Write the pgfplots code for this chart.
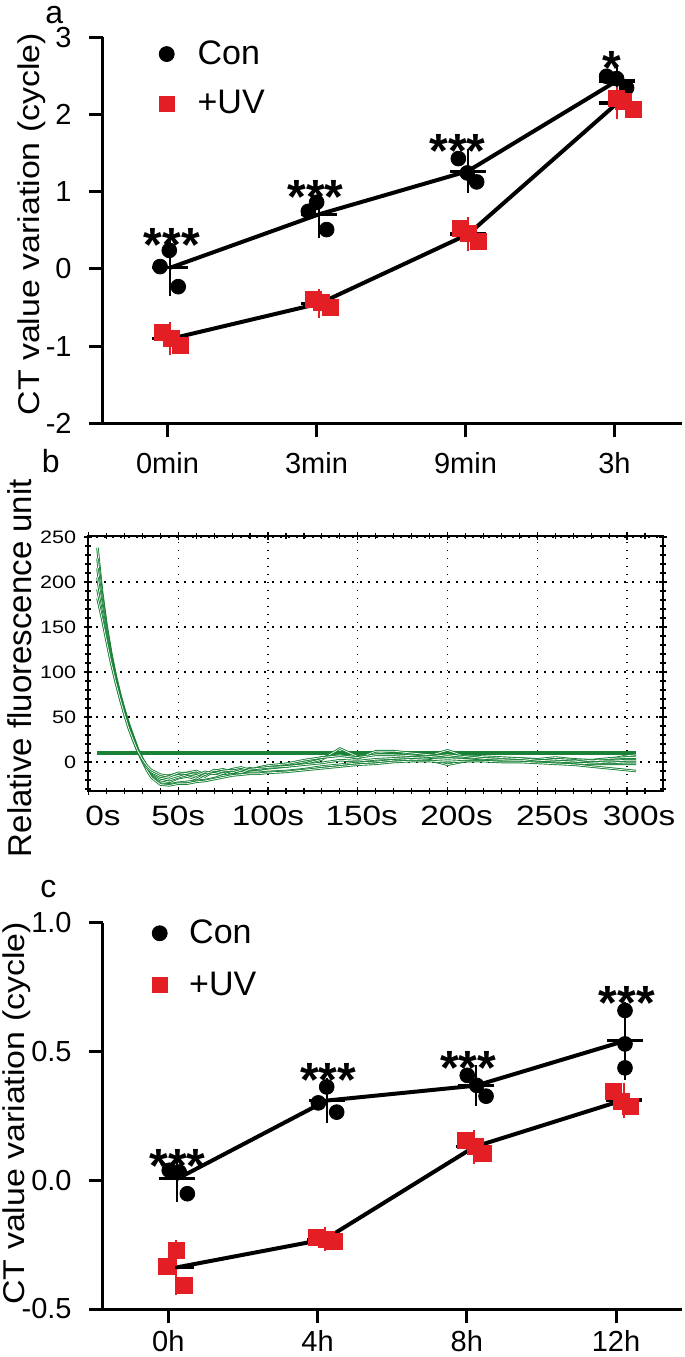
\documentclass[border=0pt]{standalone}
\usepackage{fontspec}
\setmainfont{Liberation Sans}
\usepackage{graphicx}
\usepackage{pgfplots}
\pgfplotsset{compat=1.18}
\usepackage{pgfplotstable}
\definecolor{uvred}{RGB}{228,30,37}
\definecolor{rfugreen}{RGB}{25,130,55}

\pgfplotstableread{
x c1 c2 c3 c4 c5 c6
5 238 226 215 205 192 182
7.5 190 185 178 172 165 160
10 152 150 146 142 138 135
12.5 122 121 118 116 113 111
15 97 96 94 93 91 90
17.5 76 75 74 73 72 71
20 58 57 56 55 54 53
22.5 42 41 40 39 38 37
25 28 27 26 25 24 24
27.5 14 14 13 12 12 12
30 3 4 2 1 2 3
32.5 -6 -5 -8 -9 -6 -4
35 -13 -12 -16 -17 -11 -9
40 -20 -18 -24 -25 -16 -14
45 -22 -20 -25 -26 -15 -16
50 -18 -17 -23 -24 -13 -12
55 -16 -14 -22 -24 -12 -13
60 -19 -12 -21 -22 -10 -15
65 -14 -16 -20 -21 -14 -11
70 -12 -10 -18 -19 -9 -13
75 -15 -8 -15 -17 -11 -10
80 -10 -12 -14 -15 -8 -9
85 -11 -9 -13 -14 -6 -12
90 -9 -7 -12 -13 -9 -8
95 -8 -9 -12 -13 -6 -7
100 -7 -5 -11 -12 -4 -6
110 -5 -3 -10 -11 -2 -5
120 -2 0 -8 -9 2 -3
130 3 5 -5 -7 5 -1
140 15 8 -3 -5 7 2
150 6 4 -1 -3 5 1
160 10 12 0 -2 8 3
170 12 12 2 0 8 4
180 8 10 3 1 7 5
190 7 8 2 1 5 6
200 13 6 -3 0 4 8
210 6 7 1 1 5 6
220 5 6 2 1 3 4
230 4 5 2 0 2 3
240 3 4 1 0 2 4
250 2 3 0 -1 1 2
260 4 5 0 -2 3 1
270 2 3 -1 -3 2 0
280 1 2 -2 -5 0 2
290 3 4 -2 -7 -1 1
300 7 5 -2 -9 0 2
305 8 5 -2 -10 0 2
}\rfu

\tikzset{stars/.style={anchor=base, inner sep=0pt, yshift=-13.8pt, font=\fontsize{24}{24}\selectfont\bfseries}}
\pgfplotsset{
  prism/.style={
    scale only axis, anchor=south west, clip=false,
    width=289.5pt, height=193pt,
    axis x line*=bottom, axis y line*=left,
    axis line style={-, line width=1.5pt, black},
    tick align=outside, major tick length=7pt,
    tick style={line width=1.5pt, black},
    ticklabel style={font=\fontsize{14.5}{14.5}\selectfont},
    xticklabel style={anchor=base, inner sep=0pt, yshift=-18pt},
    yticklabel style={anchor=east, inner sep=0pt, xshift=-8.5pt},
    xtick={0,1,2,3},
    legend cell align=left,
    legend image code/.code={\draw[##1, mark size=3.75pt] plot coordinates {(0pt,0pt)};},
    legend style={draw=none, fill=none, inner sep=0pt, outer sep=0pt, anchor=north west,
      font=\fontsize{17}{17}\selectfont, nodes={inner sep=0pt}},
  },
  meanbar/.style={forget plot, black, only marks, mark=-, mark size=9pt,
    mark options={line width=1.6pt}},
}

\begin{document}
\begin{tikzpicture}
% panel letters
\node[anchor=base west, inner sep=0pt, font=\fontsize{16}{16}\selectfont] at (22.5pt,666.5pt) {a};
\node[anchor=base west, inner sep=0pt, font=\fontsize{16}{16}\selectfont] at (20.75pt,442pt) {b};
\node[anchor=base west, inner sep=0pt, font=\fontsize{16}{16}\selectfont] at (20pt,229.5pt) {c};

% ---------------- panel a ----------------
\begin{axis}[prism, at={(51.5pt,466.85pt)},
  xmin=-0.433, xmax=3.453, ymin=-2, ymax=3,
  xticklabels={0min,3min,9min,3h},
  ytick={-2,-1,0,1,2,3}, yticklabels={-2,-1,0,1,2,3},
  ylabel={\scalebox{1.13}[1]{CT value variation (cycle)}},
  ylabel style={font=\fontsize{15}{15}\selectfont, at={(axis description cs:-0.1477,0.5158)}, anchor=north, inner sep=0pt},
  legend style={at={(axis description cs:0.0971,0.9912)}, row sep=11.5pt, column sep=11.7pt},
]
\addplot[forget plot, black, line width=2pt] coordinates {(0.015,0.013) (1.015,0.706) (2.015,1.266) (3.015,2.435)};
\addplot[forget plot, black, line width=2pt] coordinates {(0.02,-0.906) (1.02,-0.448) (2.02,0.452) (3.02,2.15)};
\addplot[meanbar, error bars/.cd, y dir=both, y explicit,
  error bar style={line width=1pt, black}, error mark options={line width=1pt, mark size=5pt, black}]
  coordinates {(0.015,0.013) +- (0,0.235) (1.015,0.706) +- (0,0.18) (2.015,1.266) +- (0,0.152) (3.015,2.435) +- (0,0.079)};
\addplot[meanbar, error bars/.cd, y dir=both, y explicit,
  error bar style={line width=1pt, uvred}, error mark options={line width=1pt, mark size=5pt, uvred}]
  coordinates {(0.02,-0.906) +- (0,0.083) (1.02,-0.448) +- (0,0.054) (2.02,0.452) +- (0,0.087) (3.02,2.15) +- (0,0.078)};
\addplot[black, only marks, mark=*, mark size=3.7pt] coordinates {
  (-0.05,0.03) (0.012,0.24) (0.072,-0.23)
  (0.945,0.746) (1.001,0.863) (1.068,0.509)
  (1.952,1.429) (2.012,1.243) (2.075,1.127)
  (2.947,2.495) (3.014,2.465) (3.081,2.345)};
\addlegendentry{Con}
\addplot[uvred, only marks, mark=square*, mark size=4pt] coordinates {
  (-0.032,-0.829) (0.028,-0.894) (0.089,-0.994)
  (0.979,-0.398) (1.035,-0.44) (1.095,-0.505)
  (1.963,0.531) (2.019,0.466) (2.086,0.358)
  (3.014,2.215) (3.058,2.171) (3.126,2.063)};
\addlegendentry{+UV}
\node[stars] at (axis cs:0.03,0.455) {***};
\node[stars] at (axis cs:0.993,1.07) {***};
\node[stars] at (axis cs:1.946,1.675) {***};
\node[stars] at (axis cs:2.979,2.75) {*};
\end{axis}

% ---------------- panel b ----------------
\begin{axis}[at={(44.25pt,283pt)}, anchor=south west, scale only axis,
  width=287.25pt, height=127.5pt,
  xmin=0, xmax=320, ymin=-32.2, ymax=251.1,
  axis line style={line width=1pt, black},
  xtick={0,50,...,300}, minor xtick={10,20,...,310},
  ytick={0,50,...,250}, minor ytick={-30,-20,...,240},
  tick align=center, major tick length=4pt, minor tick length=3pt,
  tick style={black, line width=0.6pt},
  grid=major, major grid style={black, line width=0.7pt, dash pattern=on 0.7pt off 3.3pt},
  xticklabels={\hspace*{14.5pt}\scalebox{1.19}[1]{0s},\scalebox{1.19}[1]{50s},\scalebox{1.19}[1]{100s},\hspace*{4pt}\scalebox{1.19}[1]{150s},\hspace*{9pt}\scalebox{1.19}[1]{200s},\hspace*{15pt}\scalebox{1.19}[1]{250s},\hspace*{12pt}\scalebox{1.19}[1]{300s}},
  yticklabels={\scalebox{1.2}[1]{0},\scalebox{1.2}[1]{50},\scalebox{1.2}[1]{100},\scalebox{1.2}[1]{150},\scalebox{1.2}[1]{200},\scalebox{1.2}[1]{250}},
  xticklabel style={font=\fontsize{14}{14}\selectfont, anchor=base, inner sep=0pt, yshift=-15.4pt},
  yticklabel style={font=\fontsize{9}{9}\selectfont, anchor=east, inner sep=0pt, xshift=-4pt},
  ylabel={Relative fluorescence unit},
  ylabel style={font=\fontsize{16.5}{16.5}\selectfont, at={(axis description cs:-0.1424,0.482)}, anchor=north, inner sep=0pt},
]
\addplot[rfugreen, line width=1.6pt] coordinates {(5,10) (305,10)};
\addplot[rfugreen, line width=0.45pt, double=white, double distance=0.35pt] table[x=x,y=c1] {\rfu};
\addplot[rfugreen, line width=0.45pt, double=white, double distance=0.35pt] table[x=x,y=c2] {\rfu};
\addplot[rfugreen, line width=0.45pt, double=white, double distance=0.35pt] table[x=x,y=c3] {\rfu};
\addplot[rfugreen, line width=0.45pt, double=white, double distance=0.35pt] table[x=x,y=c4] {\rfu};
\addplot[rfugreen, line width=0.45pt, double=white, double distance=0.35pt] table[x=x,y=c5] {\rfu};
\addplot[rfugreen, line width=0.45pt, double=white, double distance=0.35pt] table[x=x,y=c6] {\rfu};
\end{axis}

% ---------------- panel c ----------------
\begin{axis}[prism, at={(51.5pt,24pt)},
  xmin=-0.438, xmax=3.442, ymin=-0.5, ymax=1.0,
  xticklabels={0h,4h,8h,12h},
  xticklabel style={yshift=4pt},
  ytick={-0.5,0,0.5,1}, yticklabels={-0.5,0.0,0.5,1.0},
  ylabel={\scalebox{1.13}[1]{CT value variation (cycle)}},
  ylabel style={font=\fontsize{15}{15}\selectfont, at={(axis description cs:-0.1744,0.507)}, anchor=north, inner sep=0pt},
  legend style={at={(axis description cs:0.085,1.008)}, row sep=12.5pt, column sep=11pt},
]
\addplot[forget plot, black, line width=2pt] coordinates {(0.06,0.006) (1.06,0.31) (2.06,0.368) (3.06,0.542)};
\addplot[forget plot, black, line width=2pt] coordinates {(0.05,-0.339) (1.05,-0.229) (2.05,0.13) (3.05,0.312)};
\addplot[meanbar, error bars/.cd, y dir=both, y explicit,
  error bar style={line width=1pt, black}, error mark options={line width=1pt, mark size=5pt, black}]
  coordinates {(0.06,0.006) +- (0,0.051) (1.06,0.31) +- (0,0.049) (2.06,0.368) +- (0,0.04) (3.06,0.542) +- (0,0.112)};
\addplot[meanbar, error bars/.cd, y dir=both, y explicit,
  error bar style={line width=1pt, uvred}, error mark options={line width=1pt, mark size=5pt, uvred}]
  coordinates {(0.05,-0.339) +- (0,0.069) (1.05,-0.229) +- (0,0.008) (2.05,0.13) +- (0,0.026) (3.05,0.312) +- (0,0.029)};
\addplot[black, only marks, mark=*, mark size=3.7pt] coordinates {
  (0.006,0.039) (0.073,0.032) (0.127,-0.052)
  (1.005,0.301) (1.061,0.363) (1.128,0.265)
  (2.003,0.408) (2.066,0.369) (2.129,0.327)
  (3.06,0.66) (3.06,0.53) (3.06,0.437)};
\addlegendentry{Con}
\addplot[uvred, only marks, mark=square*, mark size=4pt] coordinates {
  (-0.011,-0.335) (0.051,-0.272) (0.107,-0.41)
  (0.994,-0.22) (1.056,-0.23) (1.116,-0.236)
  (1.988,0.156) (2.055,0.13) (2.109,0.104)
  (2.982,0.344) (3.038,0.305) (3.099,0.288)};
\addlegendentry{+UV}
\node[stars] at (axis cs:0.061,0.097) {***};
\node[stars] at (axis cs:1.07,0.434) {***};
\node[stars] at (axis cs:2.01,0.479) {***};
\node[stars] at (axis cs:3.072,0.732) {***};
\end{axis}

\pgfresetboundingbox
\path (0pt,0pt) rectangle (342.5pt,678.5pt);
\end{tikzpicture}
\end{document}
